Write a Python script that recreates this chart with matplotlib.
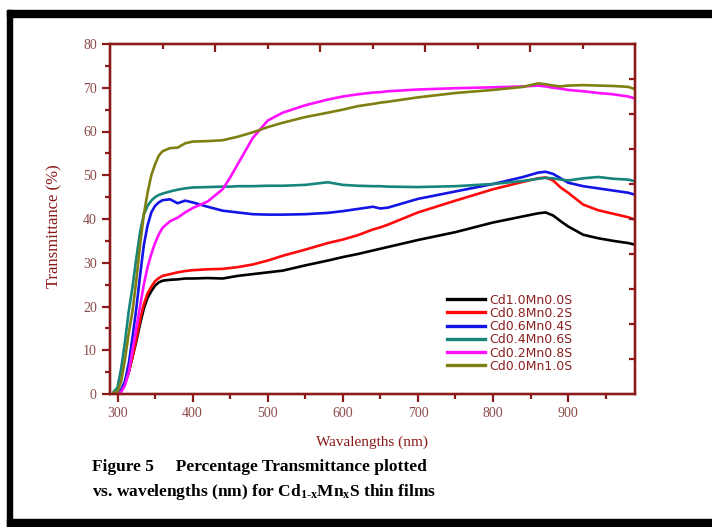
import numpy as np
import matplotlib
matplotlib.use('Agg')
import matplotlib.pyplot as plt
from matplotlib.patches import Rectangle
from matplotlib.ticker import MultipleLocator, FixedLocator

plt.rcParams['mathtext.fontset'] = 'custom'
plt.rcParams['mathtext.rm'] = 'Liberation Serif:bold'
plt.rcParams['mathtext.it'] = 'Liberation Serif:bold'

# wavelength grid (nm)
wl = [295, 300, 305, 310, 315, 320, 325, 330, 335, 340, 345, 350, 355, 360, 370,
      380, 390, 400, 420, 440, 450, 460, 470, 480, 500, 520, 550, 580, 600, 620,
      640, 650, 660, 700, 750, 800, 840, 860, 870, 880, 890, 900, 920, 940, 960,
      980, 990]

cd10 = [0, 0.2, 0.8, 2.5, 5, 8.5, 12, 16, 19.5, 22, 23.5, 24.8, 25.5, 25.9, 26.1,
        26.2, 26.4, 26.4, 26.5, 26.4, 26.7, 27, 27.2, 27.4, 27.8, 28.2, 29.4, 30.5, 31.3, 32,
        32.8, 33.2, 33.6, 35.2, 37, 39.2, 40.6, 41.3, 41.5, 40.8, 39.5, 38.3, 36.4, 35.6, 35,
        34.5, 34.1]
cd08 = [0, 0.2, 0.8, 2.5, 5, 8.5, 12.5, 17, 20.5, 23, 24.5, 25.8, 26.5, 27, 27.4,
        27.8, 28.1, 28.3, 28.5, 28.6, 28.8, 29, 29.3, 29.6, 30.5, 31.6, 33, 34.5, 35.3, 36.3,
        37.6, 38.1, 38.7, 41.5, 44.2, 46.8, 48.5, 49.3, 49.5, 48.8, 47.2, 46, 43.3, 42, 41.2,
        40.4, 39.8]
cd06 = [0, 0.2, 1, 3, 7, 13, 19.5, 27, 34, 38.5, 41.5, 43, 43.8, 44.3, 44.5,
        43.6, 44.2, 43.8, 42.8, 41.9, 41.7, 41.5, 41.3, 41.1, 41, 41, 41.1, 41.4, 41.8, 42.3,
        42.8, 42.4, 42.6, 44.6, 46.3, 48, 49.6, 50.6, 50.8, 50.3, 49.3, 48.3, 47.5, 47, 46.5,
        46, 45.5]
cd04 = [0.5, 1.5, 6, 12, 19, 24.5, 31, 37, 41, 43, 44.2, 45, 45.5, 45.8, 46.3,
        46.7, 47, 47.2, 47.3, 47.4, 47.4, 47.5, 47.5, 47.5, 47.6, 47.6, 47.8, 48.4, 47.8, 47.6,
        47.5, 47.5, 47.4, 47.3, 47.5, 48, 48.7, 49.2, 49.4, 49.3, 49, 48.8, 49.3, 49.6, 49.2,
        49, 48.6]
cd02 = [0, 0, 0.5, 2, 5, 10, 15, 20, 25, 29, 32, 34.5, 36.5, 38, 39.5,
        40.3, 41.5, 42.5, 44, 46.8, 49.5, 52.5, 55.5, 58.5, 62.5, 64.3, 66, 67.3, 68, 68.5,
        68.9, 69, 69.2, 69.6, 69.9, 70.1, 70.3, 70.5, 70.3, 70, 69.8, 69.5, 69.2, 68.8, 68.5,
        68, 67.5]
cd00 = [0.3, 0.5, 3, 8, 14, 19, 26, 34, 41, 46, 50, 52.5, 54.5, 55.5, 56.2,
        56.3, 57.3, 57.7, 57.8, 58, 58.4, 58.8, 59.3, 59.8, 61, 62, 63.3, 64.3, 65, 65.8,
        66.3, 66.6, 66.8, 67.8, 68.8, 69.5, 70.2, 71, 70.8, 70.5, 70.3, 70.5, 70.6, 70.5, 70.4,
        70.2, 69.6]

series = [cd10, cd08, cd06, cd04, cd02, cd00]
labels = ['Cd1.0Mn0.0S', 'Cd0.8Mn0.2S', 'Cd0.6Mn0.4S', 'Cd0.4Mn0.6S',
          'Cd0.2Mn0.8S', 'Cd0.0Mn1.0S']
colors = ['#000000', '#ff0a0a', '#1414e6', '#16857a', '#ff10ff', '#7f7f12']

axcol = '#8b1a1a'
tickcol = '#8c4a4a'

fig = plt.figure(figsize=(7.12, 5.27), dpi=100)
W, H = 712.0, 527.0

# black frame around the figure
for (x0, y0, w, h) in [(7, 10, 705, 7), (7, 10, 5, 517), (7, 519, 705, 8)]:
    fig.patches.append(Rectangle((x0 / W, 1 - (y0 + h) / H), w / W, h / H,
                                 transform=fig.transFigure, color='black', zorder=5))

ax = fig.add_axes([110 / W, 1 - 394 / H, 525 / W, 350 / H])
for y, lab, c in zip(series, labels, colors):
    ax.plot(wl, y, color=c, lw=1.9, label=lab)

ax.set_xlim(290, 989)
ax.set_ylim(0, 80)
ax.xaxis.set_major_locator(MultipleLocator(100))
ax.xaxis.set_minor_locator(MultipleLocator(50))
ax.yaxis.set_major_locator(MultipleLocator(10))
ax.yaxis.set_minor_locator(MultipleLocator(5))
ax.tick_params(which='both', direction='out', color=axcol, width=1.6,
               labelcolor=tickcol, labelsize=10, top=False, right=False)
ax.tick_params(which='major', length=6)
ax.tick_params(which='minor', length=3.5)
for lb in ax.get_xticklabels() + ax.get_yticklabels():
    lb.set_family('Liberation Serif')
for s in ax.spines.values():
    s.set_color(axcol)
    s.set_linewidth(1.6)

# top and right axes carry their own evenly spaced ticks
ax2 = ax.twiny()
ax2.set_xlim(0, 1)
ax2.xaxis.set_major_locator(FixedLocator([0.2, 0.4, 0.6, 0.8]))
ax2.xaxis.set_minor_locator(FixedLocator([0.1, 0.3, 0.5, 0.7, 0.9]))
ax2.tick_params(which='both', direction='in', color=axcol, width=1.6, labeltop=False)
ax2.tick_params(which='major', length=6)
ax2.tick_params(which='minor', length=3.5)
ax3 = ax.twinx()
ax3.set_ylim(0, 1)
ax3.yaxis.set_major_locator(FixedLocator([0.1, 0.2, 0.3, 0.4, 0.5, 0.6, 0.7, 0.8, 0.9]))
ax3.tick_params(which='both', direction='in', color=axcol, width=1.6, length=4,
                labelright=False)
for a in (ax2, ax3):
    for s in a.spines.values():
        s.set_color(axcol)
        s.set_linewidth(1.6)

ax.set_ylabel('Transmittance (%)', family='Liberation Serif', fontsize=12, color=axcol)
ax.yaxis.set_label_coords(-0.091, 0.48)
ax.set_xlabel('Wavalengths (nm)', family='Liberation Serif', fontsize=11, color=axcol)
ax.xaxis.set_label_coords(0.5, -0.118)

leg = ax.legend(loc='upper left', bbox_to_anchor=(0.642, 0.287), frameon=False,
                prop={'family': 'DejaVu Sans', 'size': 9}, handlelength=3.0,
                handletextpad=0.4, labelspacing=0.02, borderpad=0, borderaxespad=0)
for t in leg.get_texts():
    t.set_color('#8b2020')
for l in leg.get_lines():
    l.set_linewidth(2.4)

fig.text(92 / W, 1 - 467 / H, 'Figure 5     Percentage Transmittance plotted',
         family='Liberation Serif', weight='bold', fontsize=12.5, va='center', ha='left')
fig.text(92 / W, 1 - 492 / H,
         r'vs. wavelengths (nm) for Cd$_{\mathrm{1\text{-}x}}$Mn$_{\mathrm{x}}$S thin films',
         family='Liberation Serif', weight='bold', fontsize=12.5, va='center', ha='left')

plt.savefig('out.png', dpi=100, facecolor='w')
